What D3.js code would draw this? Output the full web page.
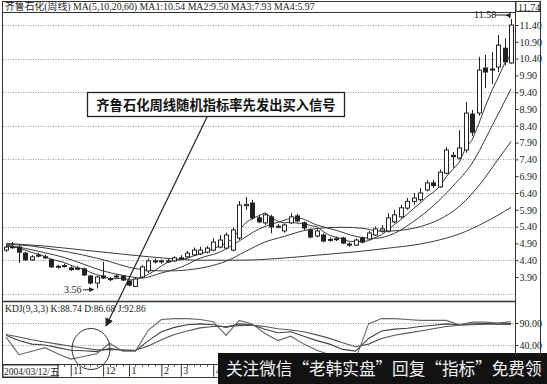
<!DOCTYPE html>
<html><head><meta charset="utf-8">
<script src="https://cdn.jsdelivr.net/npm/d3@7/dist/d3.min.js"></script>
<style>body{margin:0;background:#fff}svg{display:block}</style>
</head><body><svg id="c" width="547" height="384"></svg>
<script>
// ---------- data (weekly bars) ----------
const opens  = [4.70,4.78,4.79,4.61,4.41,4.52,4.50,4.41,4.22,4.21,4.17,4.14,4.14,3.93,3.72,3.93,3.85,3.91,3.93,3.78,3.62,3.90,4.08,4.35,4.38,4.36,4.38,4.44,4.50,4.56,4.59,4.64,4.70,4.79,4.76,4.70,5.06,6.02,6.10,5.66,5.51,5.69,5.39,5.27,5.51,5.72,5.51,5.30,5.12,5.15,5.00,5.03,5.06,4.88,4.85,5.06,5.03,5.15,5.27,5.27,5.54,5.69,5.95,6.15,6.20,6.49,6.70,6.58,6.99,7.52,7.44,7.68,8.75,8.78,10.12,10.06,10.15,10.71,10.27];
const highs  = [4.85,4.94,4.85,4.65,4.55,4.62,4.56,4.45,4.26,4.30,4.22,4.22,4.18,3.96,3.94,4.35,3.90,3.97,3.96,3.80,3.88,4.25,4.45,4.45,4.42,4.44,4.52,4.55,4.68,4.78,4.80,4.82,5.05,5.15,5.22,5.38,6.16,6.28,6.20,5.75,5.80,5.75,5.48,5.50,5.80,5.78,5.55,5.35,5.32,5.20,5.08,5.10,5.10,4.93,5.05,5.10,5.27,5.40,5.45,5.80,5.90,6.05,6.25,6.40,6.55,6.78,6.78,7.10,7.77,7.62,8.27,9.11,8.87,10.45,10.51,10.60,11.10,11.00,11.58];
const lows   = [4.65,4.74,4.32,4.38,4.38,4.48,4.44,4.17,4.15,4.18,4.08,4.10,3.93,3.68,3.56,3.84,3.78,3.87,3.78,3.62,3.60,3.85,4.02,4.30,4.30,4.32,4.35,4.40,4.47,4.52,4.55,4.60,4.66,4.75,4.72,4.66,5.00,5.90,5.60,5.50,5.45,5.20,5.35,5.22,5.48,5.52,5.30,5.05,5.08,4.93,4.95,4.97,4.88,4.80,4.82,4.90,5.00,5.12,5.22,5.22,5.50,5.65,5.90,6.05,6.15,6.45,6.55,6.55,6.95,7.15,7.40,7.60,8.10,8.70,9.52,9.65,10.00,10.20,10.25];
const closes = [4.79,4.80,4.64,4.41,4.50,4.55,4.47,4.20,4.20,4.24,4.12,4.16,3.96,3.72,3.90,3.87,3.82,3.93,3.81,3.66,3.84,4.20,4.38,4.38,4.35,4.38,4.47,4.47,4.61,4.70,4.70,4.76,4.94,5.00,5.15,5.30,6.04,6.06,5.66,5.54,5.75,5.39,5.41,5.45,5.69,5.57,5.36,5.09,5.27,4.97,5.02,5.04,4.91,4.85,5.00,4.94,5.21,5.33,5.33,5.66,5.75,5.96,6.15,6.25,6.40,6.70,6.62,7.02,7.68,7.48,7.74,8.78,8.21,10.06,10.00,10.09,10.80,10.30,11.40];

// moving averages
const ma1 = [4.82,4.80,4.76,4.70,4.63,4.58,4.51,4.43,4.38,4.33,4.25,4.18,4.14,4.04,3.97,3.92,3.85,3.85,3.87,3.82,3.81,3.89,3.98,4.09,4.23,4.34,4.39,4.41,4.46,4.53,4.59,4.65,4.74,4.82,4.91,5.03,5.29,5.51,5.64,5.72,5.81,5.68,5.55,5.51,5.54,5.50,5.50,5.43,5.40,5.25,5.14,5.08,5.04,4.96,4.96,4.95,4.98,5.07,5.16,5.29,5.46,5.61,5.77,5.95,6.10,6.29,6.42,6.60,6.88,7.10,7.31,7.74,7.98,8.45,8.96,9.43,9.83,10.25,10.54];
const ma2Idx = [0,3,6,9,12,15,18,21,24,27,30,33,36,39,42,45,48,51,54,57,60,63,66,69,72,75,78];
const ma2 = [4.85,4.75,4.62,4.48,4.28,4.08,3.95,3.87,4.02,4.19,4.46,4.64,4.97,5.32,5.53,5.66,5.45,5.29,5.11,5.05,5.20,5.56,6.02,6.60,7.29,8.37,9.50];
const ma3Idx = [0,4,8,12,16,19,22,25,28,31,34,37,40,43,46,49,52,55,58,61,64,67,70,73,76,78];
const ma3 = [4.88,4.82,4.70,4.55,4.36,4.19,4.10,4.08,4.11,4.20,4.37,4.66,4.94,5.11,5.28,5.36,5.38,5.35,5.26,5.29,5.40,5.62,6.00,6.61,7.40,7.93];
const ma4Idx = [0,6,12,18,24,30,36,42,48,54,60,64,66,70,74,78];
const ma4 = [4.90,4.82,4.70,4.58,4.47,4.40,4.40,4.45,4.55,4.65,4.78,4.88,4.96,5.18,5.53,5.97];

// KDJ(9,3,3), sampled every second week
const kdjIdx = d3.range(0, 79, 2);
const kVals = [62,50,42,40,34,28,27,25,32,28,27,50,70,80,86,88,86,80,88,86,76,68,70,60,50,42,30,26,55,72,76,78,82,85,88,86,88,89,88,88.74];
const dVals = [64,58,52,47,42,37,33,29,30,29,28,38,52,64,72,79,82,82,84,85,82,77,74,70,63,55,45,36,42,55,62,67,72,77,82,85,86,87,87,86.68];
const jVals = [58,18,26,34,20,8,14,20,44,26,26,74,98,100,100,98,93,62,96,88,66,50,60,42,28,18,2,8,88,100,100,98,96,96,96,86,92,92,90,92.86];

// axis ticks / labels
const priceTicks = [11.40,10.90,10.40,9.90,9.40,8.90,8.40,7.90,7.40,6.90,6.40,5.90,5.40,4.90,4.40,3.90];
const priceGrid  = [11.40,10.40,9.40,8.40,7.40,6.40,5.40,4.40,3.40];
const kdjTicks   = [90,40];
const monthLabels = ["11","12","1","2","3","4"];
const monthIdx    = [10,15,19,24,27,32];
const startDate   = "2004/03/12/五";
const titleText   = "齐鲁石化(周线) MA(5,10,20,60) MA1:10.54 MA2:9.50 MA3:7.93 MA4:5.97";
const kdjText     = "KDJ(9,3,3) K:88.74 D:86.68 J:92.86";
const noteText    = "齐鲁石化周线随机指标率先发出买入信号";
const lowLabel = 3.56, highLabel = 11.58, axisTop = "11.74";
const watermark = "关注微信“老韩实盘”回复“指标”免费领";

// ---------- drawing ----------
const svg = d3.select("#c");
const serif = "'Liberation Serif','Noto Sans CJK SC',serif";
const ink = "#222";
const N = closes.length;
const x = d3.scaleLinear().domain([0, N - 1]).range([6, 511]);
const y = d3.scaleLinear().domain([3.90, 11.40]).range([277, 25]);
const yk = d3.scaleLinear().domain([40, 90]).range([345, 323]);
const AX = 515;

svg.append("rect").attr("width",547).attr("height",384).attr("fill","#fff");

// fit a text to a target width by scaling its font size
function fitText(sel, target) {
  const fs = +sel.attr("font-size");
  const w = sel.node().getComputedTextLength();
  if (w > 0) sel.attr("font-size", (fs * target / w).toFixed(2));
}

// frame
svg.append("rect").attr("x",2.5).attr("y",1.5).attr("width",538).attr("height",376)
  .attr("fill","none").attr("stroke","#333").attr("stroke-width",1);
[12.5, 301.5, 364.5].forEach(v => svg.append("line").attr("x1",2.5).attr("x2",AX).attr("y1",v).attr("y2",v)
  .attr("stroke","#333").attr("stroke-width", v===301.5?1.4:1));
svg.append("line").attr("x1",AX+0.5).attr("x2",AX+0.5).attr("y1",1.5).attr("y2",377.5).attr("stroke","#333");

// price grid
svg.append("g").selectAll("line").data(priceGrid).join("line")
  .attr("x1",3).attr("x2",AX).attr("y1",d=>Math.round(y(d))+0.5).attr("y2",d=>Math.round(y(d))+0.5)
  .attr("stroke","#999").attr("stroke-dasharray","1,1.5");
// kdj grid
svg.append("g").selectAll("line").data(kdjTicks).join("line")
  .attr("x1",3).attr("x2",AX).attr("y1",d=>Math.round(yk(d))+0.5).attr("y2",d=>Math.round(yk(d))+0.5)
  .attr("stroke","#999").attr("stroke-dasharray","1,1.5");

// right price axis
const ya = svg.append("g").attr("transform",`translate(${AX+0.5},0)`)
  .call(d3.axisRight(y).tickValues(priceTicks).tickFormat(d3.format(".2f")).tickSize(3).tickPadding(1));
ya.select(".domain").remove();
ya.selectAll("text").attr("font-family",serif).attr("font-size",10).attr("fill",ink);
ya.selectAll("line").attr("stroke","#333");
// top box 11.74
svg.append("rect").attr("x",516).attr("y",1.5).attr("width",24).attr("height",10).attr("fill","#fff").attr("stroke","#333");
svg.append("text").attr("x",518).attr("y",10.5).attr("font-family",serif).attr("font-size",10).attr("fill",ink).text(axisTop);

// kdj axis
const ka = svg.append("g").attr("transform",`translate(${AX+0.5},0)`)
  .call(d3.axisRight(yk).tickValues(kdjTicks).tickFormat(d3.format(".2f")).tickSize(3).tickPadding(1));
ka.select(".domain").remove();
ka.selectAll("text").attr("font-family",serif).attr("font-size",10).attr("fill",ink);
ka.selectAll("line").attr("stroke","#333");

// MA lines
const maLine = (idx, vals) => d3.line().curve(d3.curveMonotoneX)
  .x((d,i)=>x(idx[i])).y(d=>y(d))(vals);
const maG = svg.append("g").attr("fill","none").attr("stroke","#3a3a3a").attr("stroke-width",1);
maG.append("path").attr("d", d3.line().x((d,i)=>x(i)).y(d=>y(d))(ma1));
maG.append("path").attr("d", maLine(ma2Idx, ma2));
maG.append("path").attr("d", maLine(ma3Idx, ma3));
maG.append("path").attr("d", maLine(ma4Idx, ma4));

// candles
const bw = 4;
const cg = svg.append("g").selectAll("g").data(d3.range(N)).join("g");
cg.append("line").attr("x1",i=>Math.round(x(i))+0.5).attr("x2",i=>Math.round(x(i))+0.5)
  .attr("y1",i=>y(highs[i])).attr("y2",i=>y(lows[i])).attr("stroke",ink).attr("stroke-width",1);
cg.append("rect")
  .attr("x",i=>Math.round(x(i))-bw/2+0.5).attr("width",bw)
  .attr("y",i=>y(Math.max(opens[i],closes[i])))
  .attr("height",i=>Math.max(1, Math.abs(y(opens[i])-y(closes[i]))))
  .attr("fill",i=>closes[i]>=opens[i]?"#fff":ink).attr("stroke",ink).attr("stroke-width",1);

// KDJ lines
const kl = vals => d3.line().x((d,i)=>x(kdjIdx[i])).y(d=>yk(d))(vals);
const kg = svg.append("g").attr("fill","none").attr("stroke-width",1.1);
kg.append("path").attr("d",kl(dVals)).attr("stroke","#555");
kg.append("path").attr("d",kl(kVals)).attr("stroke","#444");
kg.append("path").attr("d",kl(jVals)).attr("stroke","#666");

// date axis
const da = svg.append("g").attr("transform","translate(0,364.5)")
  .call(d3.axisBottom(x).tickValues(monthIdx).tickFormat((d,i)=>monthLabels[i]).tickSize(12).tickPadding(0));
da.select(".domain").remove();
da.selectAll("line").attr("stroke","#333");
da.selectAll("text").attr("font-family",serif).attr("font-size",10).attr("fill",ink)
  .attr("text-anchor","start").attr("dx",2).attr("y",2).attr("dy","0.71em");
svg.append("g").selectAll("line").data(d3.range(N)).join("line")
  .attr("x1",i=>Math.round(x(i))+0.5).attr("x2",i=>Math.round(x(i))+0.5)
  .attr("y1",365).attr("y2",367).attr("stroke","#666");
svg.append("rect").attr("x",3).attr("y",365).attr("width",55).attr("height",12).attr("fill","#fff").attr("stroke","#333");
svg.append("text").attr("x",4).attr("y",375).attr("font-family",serif).attr("font-size",9.5).attr("fill",ink).text(startDate);

// titles
const tt = svg.append("text").attr("x",5).attr("y",10).attr("font-family",serif).attr("font-size",10)
  .attr("fill",ink).text(titleText);
fitText(tt, 310);
const kt = svg.append("text").attr("x",5).attr("y",312).attr("font-family",serif).attr("font-size",10)
  .attr("fill",ink).text(kdjText);
fitText(kt, 141);

// annotations
const defs = svg.append("defs");
defs.append("marker").attr("id","ah").attr("viewBox","0 0 10 10").attr("refX",9).attr("refY",5)
  .attr("markerWidth",7).attr("markerHeight",7).attr("orient","auto")
  .append("path").attr("d","M0,0L10,5L0,10z").attr("fill",ink);
defs.append("marker").attr("id","ah2").attr("viewBox","0 0 10 10").attr("refX",9).attr("refY",5)
  .attr("markerWidth",5).attr("markerHeight",5).attr("orient","auto")
  .append("path").attr("d","M0,0L10,5L0,10z").attr("fill",ink);

svg.append("rect").attr("x",87.5).attr("y",92.5).attr("width",257).attr("height",24)
  .attr("fill","#fff").attr("stroke","#222").attr("stroke-width",1.3);
svg.append("text").attr("x",216).attr("y",109.5).attr("text-anchor","middle")
  .attr("font-family","'Noto Sans CJK SC',sans-serif").attr("font-weight","bold").attr("font-size",13.3)
  .attr("fill","#111").text(noteText);
svg.append("line").attr("x1",207).attr("y1",117).attr("x2",106).attr("y2",326)
  .attr("stroke",ink).attr("stroke-width",1.2).attr("marker-end","url(#ah)");
svg.append("ellipse").attr("cx",91).attr("cy",349).attr("rx",19).attr("ry",20.5)
  .attr("fill","none").attr("stroke","#333").attr("stroke-width",1);

// low / high labels
svg.append("text").attr("x",64).attr("y",293).attr("font-family",serif).attr("font-size",10).attr("fill",ink).text(lowLabel.toFixed(2));
svg.append("line").attr("x1",83).attr("y1",290).attr("x2",x(14)-3).attr("y2",y(lowLabel)+1)
  .attr("stroke",ink).attr("marker-end","url(#ah2)");
svg.append("text").attr("x",474).attr("y",18).attr("font-family",serif).attr("font-size",10).attr("fill",ink).text(highLabel.toFixed(2));
svg.append("path").attr("d",`M495,15 L505,15 Q509,15 ${x(N-1)-1},${y(highLabel)-1}`)
  .attr("fill","none").attr("stroke",ink).attr("marker-end","url(#ah2)");

// watermark bar
svg.append("rect").attr("x",218).attr("y",353).attr("width",329).attr("height",31).attr("fill","#121212");
const wm = svg.append("text").attr("x",226).attr("y",375).attr("font-family","'Noto Sans CJK SC',sans-serif")
  .attr("font-size",17).attr("fill","#f2f2f2").text(watermark);
fitText(wm, 316);
</script></body></html>
